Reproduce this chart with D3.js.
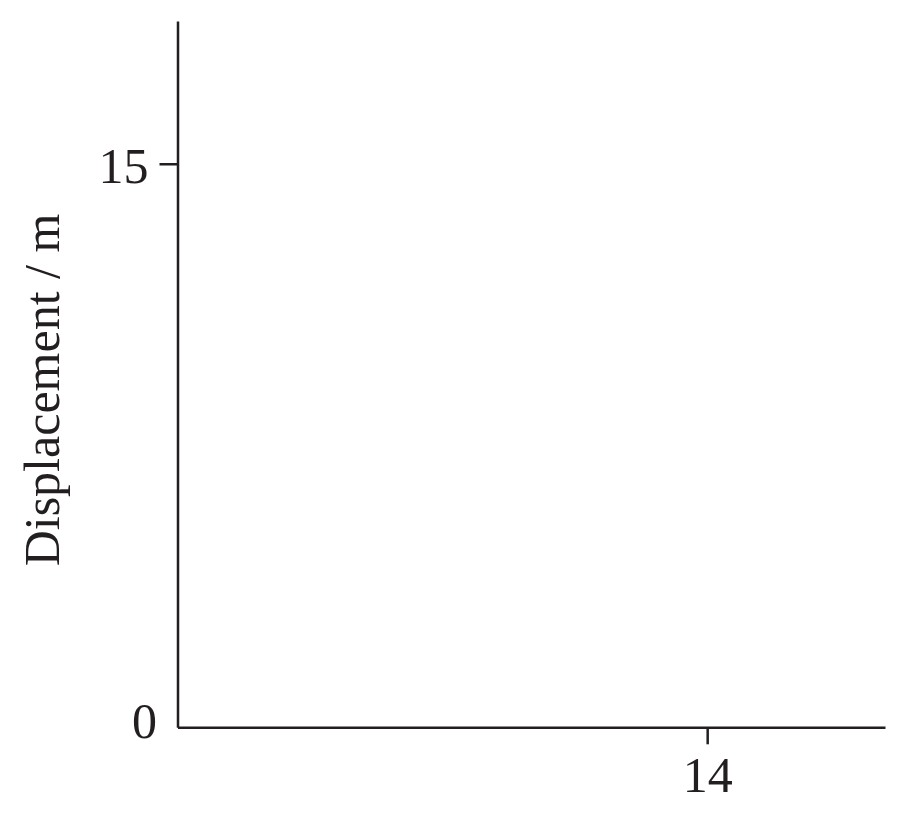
<!DOCTYPE html>
<html>
<head>
<meta charset="utf-8">
<script src="https://cdn.jsdelivr.net/npm/d3@7"></script>
<style>
  html, body { margin: 0; padding: 0; background: #fff; }
  svg { display: block; }
</style>
</head>
<body>
<svg id="chart" width="908" height="816"></svg>
<script>
// axis data
const xDomain = [0, 18.7];
const yDomain = [0, 18.8];
const xTicks = [14];
const yTicks = [0, 15];
const yLabel = "Displacement / m";

const width = 908, height = 816;
const margin = { top: 21, right: 23, bottom: 88.7, left: 177.5 };
const ink = "#231f20";
const font = '"Liberation Serif", "Times New Roman", serif';

const svg = d3.select("#chart");

const x = d3.scaleLinear().domain(xDomain).range([margin.left, width - margin.right]);
const y = d3.scaleLinear().domain(yDomain).range([height - margin.bottom, margin.top]);

// x axis
const gx = svg.append("g")
    .attr("transform", `translate(0,${height - margin.bottom})`)
    .call(d3.axisBottom(x).tickValues(xTicks).tickFormat(d3.format("d"))
        .tickSize(17).tickSizeOuter(0).tickPadding(12));

// y axis
const gy = svg.append("g")
    .attr("transform", `translate(${margin.left},0)`)
    .call(d3.axisLeft(y).tickValues(yTicks).tickFormat(d3.format("d"))
        .tickSize(18).tickSizeOuter(0).tickPadding(11));

[gx, gy].forEach(g => {
    g.attr("font-family", font).attr("font-size", 50);
    g.select(".domain").attr("stroke", ink).attr("stroke-width", 2.5);
    g.selectAll(".tick line").attr("stroke", ink).attr("stroke-width", 2.5);
    g.selectAll(".tick text").attr("fill", ink).style("font-family", font);
});

// y tick labels sit a bit lower than d3's default
gy.selectAll(".tick text").attr("dy", "0.366em");

// the 0 label sits at the corner, without its own tick mark
gy.selectAll(".tick").filter(d => d === 0)
    .call(t => t.select("line").remove())
    .select("text")
    .attr("x", -20.5)
    .attr("dy", "0.21em");

// y axis title
svg.append("text")
    .attr("transform", `translate(59,390) rotate(-90)`)
    .attr("text-anchor", "middle")
    .attr("font-size", 50)
    .attr("fill", ink)
    .style("font-family", font)
    .text(yLabel);
</script>
</body>
</html>
